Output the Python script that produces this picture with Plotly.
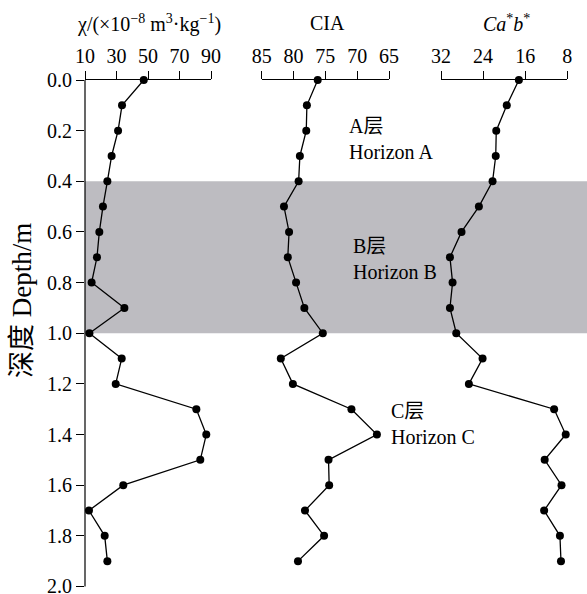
import plotly.graph_objects as go

depth = [0.0, 0.1, 0.2, 0.3, 0.4, 0.5, 0.6, 0.7, 0.8, 0.9,
         1.0, 1.1, 1.2, 1.3, 1.4, 1.5, 1.6, 1.7, 1.8, 1.9]
chi = [47.3, 33.5, 31.0, 26.9, 24.2, 21.4, 19.1, 17.6, 14.2, 35.0,
       12.8, 33.3, 29.5, 80.7, 87.0, 83.2, 34.3, 12.5, 22.5, 24.2]
cia = [76.2, 77.9, 78.0, 79.0, 79.2, 81.5, 80.7, 80.9, 79.6, 78.3,
       75.4, 82.0, 80.1, 70.9, 66.9, 74.5, 74.4, 78.2, 75.2, 79.3]
cab = [17.2, 19.5, 21.5, 21.6, 22.2, 24.8, 28.1, 30.3, 29.8, 30.3,
       29.1, 24.1, 26.7, 10.5, 8.3, 12.3, 9.1, 12.4, 9.4, 9.2]

chi_ticks = [10, 30, 50, 70, 90]
cia_ticks = [85, 80, 75, 70, 65]
cab_ticks = [32, 24, 16, 8]
depth_ticks = [0.0, 0.2, 0.4, 0.6, 0.8, 1.0, 1.2, 1.4, 1.6, 1.8, 2.0]
depth_ticktext = ["0.0", "0.2", "0.4", "0.6", "0.8", "1.0", "1.2", "1.4", "1.6", "1.8", "2.0"]

panel_titles = ["χ/(×10<sup>−8</sup> m<sup>3</sup>·kg<sup>−1</sup>)", "CIA",
                "<i>Ca</i><sup>*</sup><i>b</i><sup>*</sup>"]
horizon_labels = ["A层<br>Horizon A", "B层<br>Horizon B", "C层<br>Horizon C"]
horizon_depths = [0.231, 0.706, 1.358]
band = [0.4, 1.0]

FONT = "Liberation Serif, Times New Roman, Noto Sans CJK SC, serif"
FS = 20

fig = go.Figure()
for xs, ax in [(chi, "x"), (cia, "x2"), (cab, "x3")]:
    fig.add_trace(go.Scatter(
        x=xs, y=depth, xaxis=ax, yaxis="y", mode="lines+markers",
        line=dict(color="black", width=1.3),
        marker=dict(color="black", size=8),
        cliponaxis=False, showlegend=False))

W, H = 587, 594
ymax = 2.01
ml, mr, mt = 85, 0, 80
ph = (586.5 - mt) * ymax / 2.0
mb = H - mt - ph
pw = W - ml - mr

def dom(a, b):
    return [(a - ml) / pw, (b - ml) / pw]

def ypaper(py):
    return 1 - (py - mt) / ph

common_x = dict(side="top", anchor="y", showline=True, linecolor="black", linewidth=1.2,
                ticks="outside", ticklen=8, tickwidth=1.2, tickcolor="black",
                showgrid=False, zeroline=False, automargin=False,
                tickfont=dict(family=FONT, size=FS, color="black"))

fig.update_layout(
    template="none",
    width=W, height=H,
    margin=dict(l=ml, r=mr, t=mt, b=mb),
    paper_bgcolor="white", plot_bgcolor="white",
    font=dict(family=FONT, size=FS, color="black"),
    xaxis=dict(domain=dom(85, 211), range=[10, 90], tickvals=chi_ticks, **common_x),
    xaxis2=dict(domain=dom(261.7, 389), range=[85, 65], tickvals=cia_ticks, **common_x),
    xaxis3=dict(domain=dom(441, 567.3), range=[32, 8], tickvals=cab_ticks, **common_x),
    yaxis=dict(domain=[0, 1], range=[ymax, 0.0], tickvals=depth_ticks, ticktext=depth_ticktext,
               showline=False, ticklabeloverflow="allow",
               ticks="outside", ticklen=8, tickwidth=1.2, tickcolor="black",
               showgrid=False, zeroline=False, automargin=False,
               tickfont=dict(family=FONT, size=FS, color="black")),
    shapes=[dict(type="rect", xref="paper", yref="y", x0=0, x1=1,
                 y0=band[0], y1=band[1], fillcolor="#bdbcc1",
                 line=dict(width=0), layer="below"),
            dict(type="line", xref="paper", yref="y", x0=0, x1=0,
                 y0=depth_ticks[0], y1=depth_ticks[-1],
                 line=dict(color="black", width=1.2), layer="above")],
)

title_x = [148.5, 327, 506]
ann = []
for t, xp in zip(panel_titles, title_x):
    ann.append(dict(text=t, x=(xp - ml) / pw, y=ypaper(23), xref="paper", yref="paper",
                    xanchor="center", yanchor="middle", showarrow=False,
                    font=dict(family=FONT, size=FS, color="black")))

label_x = [347, 351, 389]
for t, xp, d in zip(horizon_labels, label_x, horizon_depths):
    ann.append(dict(text=t, x=(xp - ml) / pw, y=d, xref="paper", yref="y",
                    xanchor="left", yanchor="middle", align="left", showarrow=False,
                    font=dict(family=FONT, size=FS, color="black")))

ann.append(dict(text="深度 Depth/m", x=(22 - ml) / pw, y=ypaper(301),
                xref="paper", yref="paper", textangle=-90, xanchor="center", yanchor="middle",
                showarrow=False, font=dict(family=FONT, size=27, color="black")))
fig.update_layout(annotations=ann)

fig.write_html("out.html")
